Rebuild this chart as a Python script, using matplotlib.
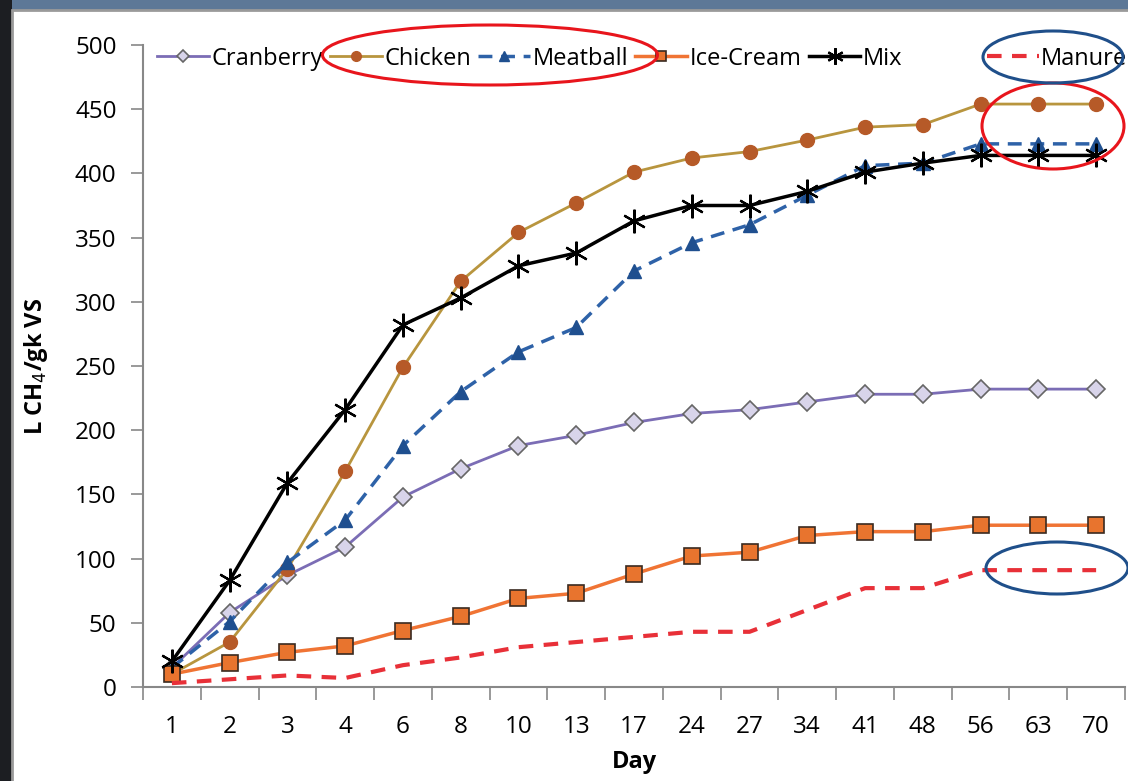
import numpy as np
import matplotlib.pyplot as plt
from matplotlib.patches import Ellipse, Rectangle

days = ['1', '2', '3', '4', '6', '8', '10', '13', '17', '24', '27', '34', '41', '48', '56', '63', '70']

cranberry = [15, 58, 87, 109, 148, 170, 188, 196, 206, 213, 216, 222, 228, 228, 232, 232, 232]
chicken = [10, 35, 92, 168, 249, 316, 354, 377, 401, 412, 417, 426, 436, 438, 454, 454, 454]
meatball = [15, 51, 97, 130, 188, 230, 261, 280, 324, 346, 360, 383, 406, 408, 423, 423, 423]
ice_cream = [10, 19, 27, 32, 44, 55, 69, 73, 88, 102, 105, 118, 121, 121, 126, 126, 126]
mix = [20, 83, 159, 216, 282, 303, 328, 338, 363, 375, 375, 386, 401, 408, 414, 414, 414]
manure = [3, 6, 9, 7, 17, 23, 31, 35, 39, 43, 43, 60, 77, 77, 91, 91, 91]

plt.rcParams['font.family'] = ['Open Sans', 'DejaVu Sans']

W, H = 1128, 781
fig = plt.figure(figsize=(W / 100, H / 100), dpi=100, facecolor='#3d4f6c')

# slide background + white chart area
fig.add_artist(Rectangle((0, 1 - 10 / H), 1, 10 / H, transform=fig.transFigure,
                         facecolor='#5d7897', edgecolor='none', zorder=0))
fig.add_artist(Rectangle((0, 0), 12 / W, 1, transform=fig.transFigure,
                         facecolor='#1c1e22', edgecolor='none', zorder=0))
fig.add_artist(Rectangle((12 / W, -0.01), 1.01 - 12 / W, 1.01 - 10 / H, transform=fig.transFigure,
                         facecolor='white', edgecolor='#9a9a9a', lw=2, zorder=0))

ax = fig.add_axes([143 / W, 1 - 687 / H, (1125 - 143) / W, (687 - 45) / H])
ax.set_facecolor('none')
x = np.arange(len(days))

ax.plot(x, cranberry, color='#7b6db5', lw=2, marker='D', ms=9,
        mfc='#d8d4ea', mec='#666666', mew=1.2, label='Cranberry', zorder=3)
ax.plot(x, chicken, color='#b8953e', lw=2, marker='o', ms=10,
        mfc='#b65a28', mec='#b65a28', label='Chicken', zorder=3)
ax.plot(x, meatball, color='#2e62a8', lw=2.5, ls=(0, (4, 2.5)), marker='^', ms=10,
        mfc='#1f4f8f', mec='#1f4f8f', label='Meatball', zorder=3)
ax.plot(x, ice_cream, color='#f07434', lw=2.5, marker='s', ms=11,
        mfc='#e8742e', mec='#3a2a20', mew=1.2, label='Ice-Cream', zorder=3)
ax.plot(x, mix, color='black', lw=2.5, marker=(6, 2, 0), ms=17, mew=1.6,
        mec='black', label='Mix', zorder=4)
ax.plot(x, manure, color='#e83038', lw=3, ls=(0, (3.5, 2.5)), label='Manure', zorder=3)

ax.set_xlim(-0.5, len(days) - 0.5)
ax.set_ylim(0, 500)
ax.set_yticks(np.arange(0, 501, 50))
ax.set_xticks(x)
ax.set_xticklabels(days)
ax.set_xticks(np.arange(-0.5, len(days), 1), minor=True)
ax.tick_params(axis='x', which='major', length=0, pad=20, labelsize=17.5)
ax.tick_params(axis='x', which='minor', length=9, width=1.2, color='#888888', direction='out')
ax.tick_params(axis='y', length=9, width=1.2, color='#888888', pad=10, labelsize=17.5)
for s in ['top', 'right']:
    ax.spines[s].set_visible(False)
for s in ['left', 'bottom']:
    ax.spines[s].set_color('#888888')
    ax.spines[s].set_linewidth(1.5)

ax.set_xlabel('Day', fontsize=17, fontweight='bold', labelpad=8)
ax.set_ylabel('L CH$_4$/gk VS', fontsize=17, fontweight='bold', labelpad=18)

handles, labels = ax.get_legend_handles_labels()
leg1 = ax.legend(handles[:5], labels[:5], loc='upper left', bbox_to_anchor=(0.005, 1.012),
                 ncol=5, frameon=False, fontsize=17, handlelength=2.2, handletextpad=0.1,
                 columnspacing=0.3, borderaxespad=0)
for h in leg1.legend_handles:
    h.set_markersize(h.get_markersize() * 0.7)
ax.add_artist(leg1)
leg2 = ax.legend(handles[5:], labels[5:], loc='upper right', bbox_to_anchor=(1.012, 1.012),
                 frameon=False, fontsize=17, handlelength=2.2, handletextpad=0.1, borderaxespad=0)

# highlight ellipses
def ell(cx, cy, w, h, color):
    fig.add_artist(Ellipse((cx / W, 1 - cy / H), w / W, h / H, transform=fig.transFigure,
                           fill=False, edgecolor=color, lw=2.2, zorder=10))

ell(490, 55, 335, 60, '#e8151c')
ell(1053, 126, 142, 86, '#e8151c')
ell(1053, 57, 140, 52, '#1f4f8a')
ell(1057, 568, 142, 52, '#1f4f8a')

fig.savefig('out.png', dpi=100, facecolor=fig.get_facecolor())
